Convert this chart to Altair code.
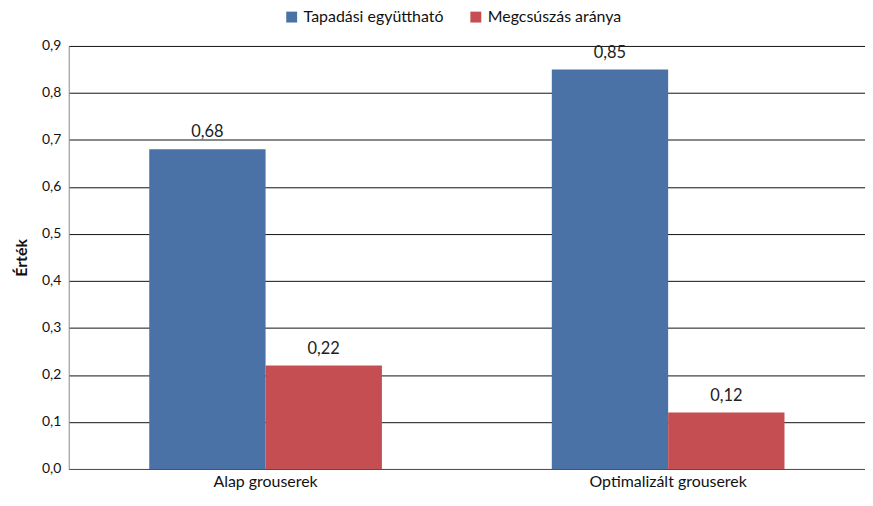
import altair as alt
import pandas as pd

categories = ["Alap grouserek", "Optimalizált grouserek"]
series = ["Tapadási együttható", "Megcsúszás aránya"]
tapadasi = [0.68, 0.85]
megcsuszas = [0.22, 0.12]
colors = ["#4A72A6", "#C44E52"]
y_ticks = [0.0, 0.1, 0.2, 0.3, 0.4, 0.5, 0.6, 0.7, 0.8, 0.9]

rows = []
for i, c in enumerate(categories):
    rows.append({"cat": c, "series": series[0], "value": tapadasi[i]})
    rows.append({"cat": c, "series": series[1], "value": megcsuszas[i]})
df = pd.DataFrame(rows)

FONT = "Lato"

x = alt.X("cat:N", sort=categories, title=None,
          scale=alt.Scale(paddingInner=0.422, paddingOuter=0.2),
          axis=alt.Axis(labelAngle=0, labelFontSize=16, labelColor="#111",
                        ticks=False, domain=True, domainColor="#555",
                        labelPadding=5))
xoff = alt.XOffset("series:N", sort=series, scale=alt.Scale(paddingInner=0, paddingOuter=0))

bars = alt.Chart(df).mark_bar().encode(
    x=x,
    xOffset=xoff,
    y=alt.Y("value:Q", title="Érték",
            scale=alt.Scale(domain=[0, 0.9], nice=False),
            axis=alt.Axis(values=y_ticks,
                          labelExpr="replace(format(datum.value, '.1f'), '.', ',')",
                          labelFontSize=14, labelColor="#111", ticks=False,
                          domainColor="#888", gridColor="#111", gridWidth=1,
                          titleFontSize=16, titleFontWeight="bold",
                          titleColor="#111", titlePadding=12, labelPadding=8)),
    color=alt.Color("series:N", sort=series,
                    scale=alt.Scale(domain=series, range=colors),
                    legend=alt.Legend(title=None, orient="none", direction="horizontal",
                                      legendX=216, legendY=-37,
                                      symbolType="square", symbolSize=120,
                                      labelFontSize=16, labelColor="#111",
                                      columnPadding=24, symbolStrokeWidth=0)),
)

text = alt.Chart(df).mark_text(dy=-9, baseline="bottom", fontSize=16.5, color="#222", font=FONT).encode(
    x=alt.X("cat:N", sort=categories),
    xOffset=xoff,
    y=alt.Y("value:Q"),
    text=alt.Text("label:N"),
).transform_calculate(label="replace(format(datum.value, '.2f'), '.', ',')")

chart = alt.layer(bars, text).properties(
    width=800, height=425,
    padding={"left": 5, "right": 0, "top": 0, "bottom": 0},
).configure(font=FONT).configure_view(stroke=None).configure_axis(
    labelFont=FONT, titleFont=FONT
).configure_legend(labelFont=FONT)

chart.save("out.html", embed_options={"renderer": "svg", "actions": False})
